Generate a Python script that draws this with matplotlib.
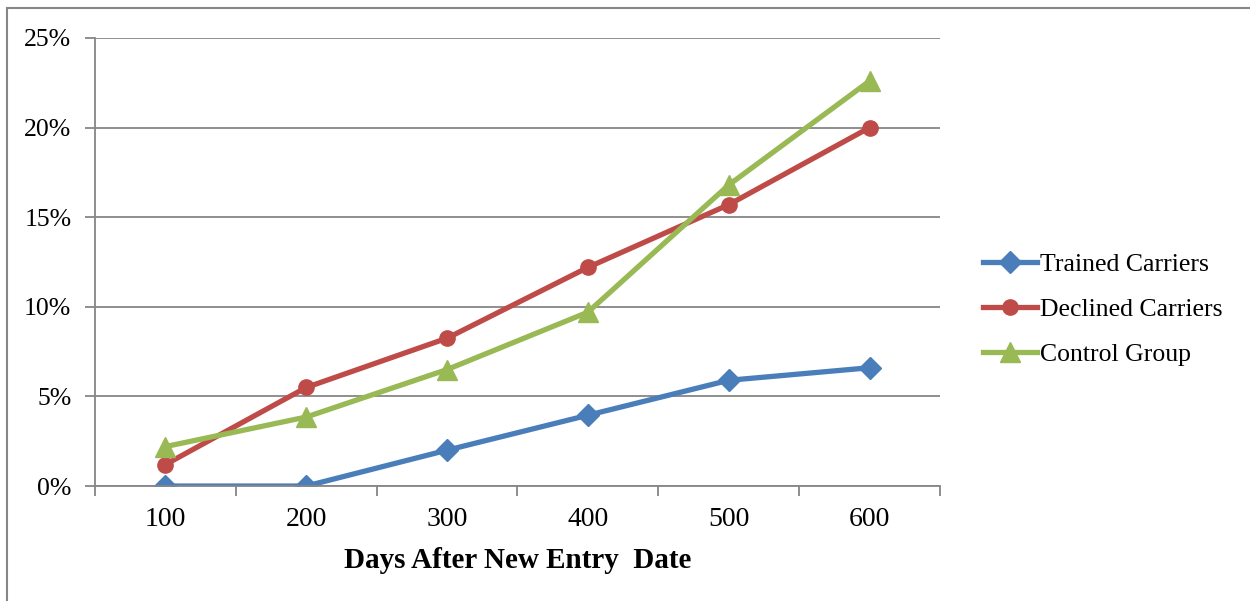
import matplotlib.pyplot as plt
from matplotlib.patches import Rectangle
from matplotlib.ticker import FuncFormatter

days = ['100', '200', '300', '400', '500', '600']
trained = [0.0, 0.0, 2.0, 3.95, 5.9, 6.6]
declined = [1.2, 5.5, 8.25, 12.2, 15.7, 20.0]
control = [2.2, 3.85, 6.5, 9.7, 16.8, 22.6]

plt.rcParams['font.family'] = ['Liberation Serif', 'DejaVu Serif']

fig = plt.figure(figsize=(12.5, 6.01), dpi=100)
ax = fig.add_axes([0.076, 0.1913, 0.676, 0.7455])

# outer chart frame
fig.patches.append(Rectangle((7 / 1250, -0.1), 1.2, 1.0 - 8 / 601 + 0.1, transform=fig.transFigure,
                             fill=False, edgecolor='#868686', linewidth=1.5))

x = range(len(days))
ax.plot(x, trained, color='#4A7EBB', lw=3.8, marker='D', ms=11, label='Trained Carriers')
ax.plot(x, declined, color='#BE4B48', lw=3.8, marker='o', ms=11, label='Declined Carriers')
ax.plot(x, control, color='#98B954', lw=3.8, marker='^', ms=14, label='Control Group')

ax.set_xlim(-0.5, len(days) - 0.5)
ax.set_ylim(0, 25)
ax.set_yticks(range(0, 26, 5))
ax.yaxis.set_major_formatter(FuncFormatter(lambda v, p: '%d%%' % v))
ax.set_xticks(list(x))
ax.set_xticklabels(days)
ax.set_xticks([i - 0.5 for i in range(len(days) + 1)], minor=True)
ax.tick_params(axis='x', which='major', length=0, labelsize=20, pad=15)
ax.tick_params(axis='x', which='minor', length=7, width=1.3, color='#868686', direction='out')
ax.tick_params(axis='y', length=7, width=1.3, color='#868686', labelsize=18.5, pad=10)
ax.grid(axis='y', color='#868686', lw=1.3)
ax.set_axisbelow(True)
for s in ['top', 'right']:
    ax.spines[s].set_visible(False)
for s in ['left', 'bottom']:
    ax.spines[s].set_color('#868686')
    ax.spines[s].set_linewidth(1.3)

ax.set_xlabel('Days After New Entry  Date', fontsize=21, fontweight='bold', labelpad=11)

fig.legend(loc='center left', bbox_to_anchor=(0.768, 0.485), frameon=False, fontsize=18.5,
           handlelength=2.1, handletextpad=0.1, labelspacing=0.85)

fig.savefig('out.png', dpi=100)
